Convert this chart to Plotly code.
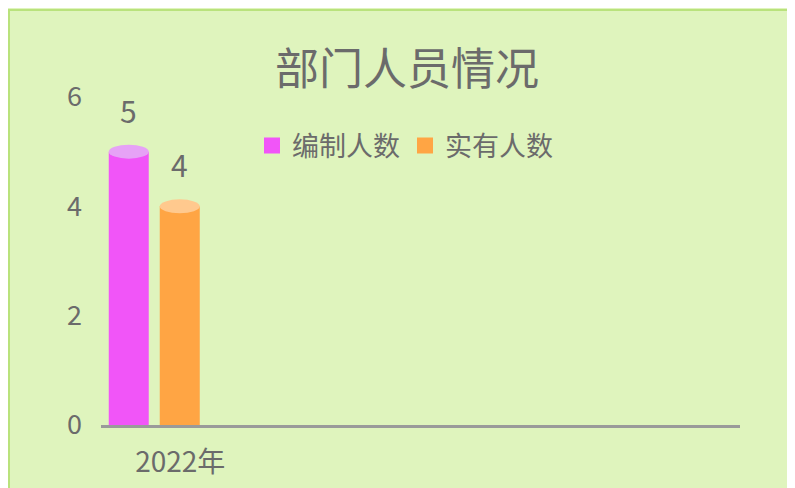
import plotly.graph_objects as go

categories = ["2022年"]
series_names = ["编制人数", "实有人数"]
bianzhi = [5]
shiyou = [4]
y_ticks = [0, 2, 4, 6]

colors = ["#f155f8", "#ffa544"]
cap_colors = ["#e6a2f6", "#ffc98e"]
font_family = "Microsoft YaHei, Noto Sans CJK SC, sans-serif"
text_color = "#6b6b6b"

W, H = 803, 496
L, R, T, B = 93, W - 732, 89, H - 417
pw, ph = W - L - R, H - T - B
x_range = [-0.5, 5.5]
cat_px = pw / (x_range[1] - x_range[0])

bargap = 0.042
bargroupgap = 0.216
slot = (1 - bargap) / len(series_names)
bar_w = slot * (1 - bargroupgap)

fig = go.Figure()
for i, (name, vals, col, cap) in enumerate(zip(series_names, [bianzhi, shiyou], colors, cap_colors)):
    fig.add_trace(go.Bar(
        x=categories, y=vals, name=name, showlegend=False,
        marker=dict(color=col, line=dict(width=0)),
    ))
    fig.add_trace(go.Scatter(
        x=[None], y=[None], name=name, mode="markers",
        marker=dict(symbol="square", size=16, color=col),
    ))
    offset = -(1 - bargap) / 2 + slot * (i + 0.5)
    for ci, (cat, v) in enumerate(zip(categories, vals)):
        cx = ci + offset
        fig.add_shape(type="circle", xref="x", yref="y",
                      x0=cx - bar_w / 2, x1=cx + bar_w / 2,
                      ysizemode="pixel", yanchor=v, y0=-7, y1=7,
                      fillcolor=cap, line=dict(width=0), layer="above")
        fig.add_annotation(x=cat, y=v, xref="x", yref="y", text=str(v),
                           showarrow=False, xshift=offset * cat_px,
                           yshift=42, yanchor="middle",
                           font=dict(size=30, color=text_color, family=font_family))

def px_x(p):
    return (p - L) / pw

def px_y(p):
    return (H - B - p) / ph

fig.add_shape(type="rect", xref="paper", yref="paper",
              x0=px_x(1), x1=px_x(W + 5), y0=px_y(H + 5), y1=px_y(2),
              fillcolor="rgba(0,0,0,0)", line=dict(color="#b9e27c", width=2),
              layer="below")

fig.update_layout(
    width=W, height=H,
    margin=dict(l=L, r=R, t=T, b=B),
    paper_bgcolor="#dff4bd",
    plot_bgcolor="rgba(0,0,0,0)",
    barmode="group",
    bargap=bargap,
    bargroupgap=bargroupgap,
    font=dict(family=font_family, color=text_color),
    title=dict(text="部门人员情况", x=399 / W, xref="container", xanchor="center",
               y=1 - 62 / H, yref="container", yanchor="middle",
               font=dict(size=44, color=text_color, family=font_family)),
    legend=dict(orientation="h", x=px_x(244), y=px_y(138), xanchor="left", yanchor="middle",
                font=dict(size=27, color=text_color, family=font_family),
                bgcolor="rgba(0,0,0,0)", itemwidth=30, traceorder="normal",
                itemsizing="trace"),
    xaxis=dict(type="category", range=x_range, showgrid=False, zeroline=False,
               showline=True, linecolor="#9a9a9a", linewidth=3,
               ticks="", tickfont=dict(size=28, color=text_color, family=font_family),
               ticklabelshift=26, ticklabelstandoff=10),
    yaxis=dict(range=[0, 6], tickvals=y_ticks, showgrid=False, zeroline=False,
               showline=False, ticks="",
               tickfont=dict(size=27, color=text_color, family=font_family),
               ticklabelstandoff=18),
)

fig.write_html("out.html")
